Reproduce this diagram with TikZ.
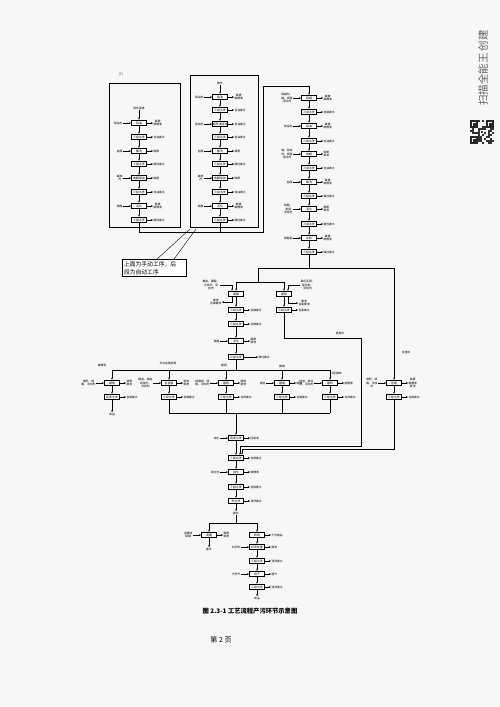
\documentclass[tikz,border=0pt]{standalone}
\usepackage{fontspec}
\newfontfamily\cjk{Noto Sans CJK SC}
\usetikzlibrary{arrows.meta}
\tikzset{
 pbox/.style={draw,line width=0.9pt,fill=white,minimum width=15pt,minimum height=5.8pt,inner sep=0.3pt,font=\cjk\fontsize{2.9}{3}\selectfont},
 lbl/.style={font=\cjk\fontsize{2.8}{3.3}\selectfont,align=center,inner sep=0.4pt},
 ln/.style={line width=0.75pt},
 arr/.style={ln,-{Stealth[length=1.9pt,width=1.7pt]}},
 frame/.style={line width=0.7pt},
}
\newcommand\pb[4]{\node[pbox] (#1) at (#2,#3) {#4};}
\newcommand\inl[2]{\node[lbl,anchor=east] (#1i) at ([xshift=-8pt]#1.west) {#2};\draw[arr] (#1i.east) -- (#1.west);}
\newcommand\outl[2]{\node[lbl,anchor=west] (#1o) at ([xshift=6pt]#1.east) {#2};\draw[arr] (#1.east) -- (#1o.west);}
\begin{document}
\begin{tikzpicture}[x=1pt,y=-1pt]
\useasboundingbox (0,0) rectangle (500,707);
\fill[gray!6] (0,0) rectangle (500,707);

% ---------- panel 1 ----------
\node[lbl,font=\cjk\fontsize{4}{4}\selectfont,text=gray!80!black] (p1lab) at (121,74) {(1)};
\draw[frame] (109,83) rectangle (180,227);
\node[lbl] (t1) at (139,108) {铁件基体};
\pb{a1}{139}{123}{除油}\inl{a1}{除油剂}\outl{a1}{碱雾\\废槽液}
\pb{a2}{139}{137}{三级水洗}\outl{a2}{含油废水}
\pb{a3}{139}{151}{酸洗}\inl{a3}{盐酸}\outl{a3}{酸雾}
\pb{a4}{139}{164}{三级水洗}\outl{a4}{酸性废水}
\pb{a5}{139}{178}{电解除油}\inl{a5}{碱液\\剂}\outl{a5}{碱雾}
\pb{a6}{139}{192}{三级水洗}\outl{a6}{含油废水}
\pb{a7}{139}{206}{活化}\inl{a7}{硫酸}\outl{a7}{酸雾\\废槽液}
\pb{a8}{139}{220}{三级水洗}\outl{a8}{酸性废水}
\draw[arr] (t1) -- (a1);
\foreach \u/\v in {a1/a2,a2/a3,a3/a4,a4/a5,a5/a6,a6/a7,a7/a8} \draw[arr] (\u) -- (\v);

% ---------- panel 2 ----------
\draw[frame] (190,75) rectangle (258,227);
\node[lbl] (t2) at (220,83) {镀件};
\pb{b1}{220}{97}{除油}\inl{b1}{除油剂}\outl{b1}{碱雾\\废槽液}
\pb{b2}{220}{110}{三级水洗}\outl{b2}{含油废水}
\pb{b3}{220}{124}{超声波除油}\inl{b3}{除油剂}\outl{b3}{含油废水}
\pb{b4}{220}{137}{三级水洗}\outl{b4}{含油废水}
\pb{b5}{220}{151}{酸洗}\inl{b5}{盐酸}\outl{b5}{酸雾}
\pb{b6}{220}{164}{三级水洗}\outl{b6}{酸性废水}
\pb{b7}{220}{178}{电解除油}\inl{b7}{碱液\\剂}\outl{b7}{碱雾}
\pb{b8}{220}{192}{三级水洗}\outl{b8}{含油废水}
\pb{b9}{220}{206}{活化}\inl{b9}{硫酸}\outl{b9}{酸雾\\废槽液}
\pb{b10}{220}{220}{三级水洗}\outl{b10}{酸性废水}
\draw[arr] (t2) -- (b1);
\foreach \u/\v in {b1/b2,b2/b3,b3/b4,b4/b5,b5/b6,b6/b7,b7/b8,b8/b9,b9/b10} \draw[arr] (\u) -- (\v);

% ---------- callout ----------
\node[draw,line width=0.4pt,fill=white,align=left,text width=60pt,inner sep=2pt,font=\cjk\fontsize{5.8}{8}\selectfont] (cb) at (154,268) {上面为手动工序，后\\段为自动工序};
\coordinate (cq1) at (190,229);
\coordinate (cq2) at (196,229);
\draw[line width=0.4pt] ([xshift=3pt]cb.north) -- (cq1);
\draw[line width=0.4pt] ([xshift=20pt]cb.north) -- (cq2);

% ---------- link to chain 3 ----------
\coordinate (j1) at (139,232);
\coordinate (j2) at (220,232);
\coordinate (j3) at (263,232);
\coordinate (j4) at (263,86);
\coordinate (j5) at (309,86);
\draw[ln] (a8) -- (j1) -- (j3) -- (j4) -- (j5);
\draw[ln] (b10) -- (j2);

% ---------- chain 3 ----------
\pb{c1}{309}{98}{除蜡}\inl{c1}{除蜡剂、\\碱、表面\\活性剂}\outl{c1}{碱雾\\废槽液}
\pb{c2}{309}{112}{三级水洗}\outl{c2}{含蜡废水}
\pb{c3}{309}{126}{除油}\inl{c3}{除油剂}\outl{c3}{碱雾\\废槽液}
\pb{c4}{309}{141}{三级水洗}\outl{c4}{含油废水}
\pb{c5}{309}{154}{电解}\inl{c5}{碱、除油\\剂、表面\\活性剂}\outl{c5}{碱雾\\废液}
\pb{c6}{309}{168}{三级水洗}\outl{c6}{含油废水}
\pb{c7}{309}{182}{酸洗}\inl{c7}{盐酸}\outl{c7}{酸雾\\废槽液}
\pb{c8}{309}{196}{三级水洗}\outl{c8}{酸性废水}
\pb{c9}{309}{209}{活化}\inl{c9}{硫酸、\\表面\\活性剂}\outl{c9}{酸雾\\废液}
\pb{c10}{309}{224}{三级水洗}\outl{c10}{酸性废水}
\pb{c11}{309}{238}{中和}\inl{c11}{碳酸钠}\outl{c11}{碱雾\\废槽液}
\pb{c12}{309}{252}{三级水洗}\outl{c12}{碱性废水}
\draw[arr] (j5) -- (c1);
\foreach \u/\v in {c1/c2,c2/c3,c3/c4,c4/c5,c5/c6,c6/c7,c7/c8,c8/c9,c9/c10,c10/c11,c11/c12} \draw[arr] (\u) -- (\v);

\coordinate (k1) at (309,268);
\coordinate (k2) at (258,268);
\coordinate (k3) at (394,268);
\coordinate (k4) at (258,282);
\coordinate (k5) at (236,282);
\coordinate (k6) at (284,282);
\draw[ln] (c12) -- (k1);
\draw[ln] (k2) -- (k3);
\draw[ln] (k2) -- (k4);
\draw[ln] (k5) -- (k6);

% ---------- left branch (x=236) ----------
\pb{d1}{236}{294}{镀镍}
\pb{d2}{236}{310}{三级水洗}\outl{d2}{含镍废水}
\pb{d3}{236}{324}{三级水洗}\outl{d3}{含镍废水}
\pb{d4}{236}{341}{活化}\inl{d4}{硫酸}\outl{d4}{酸雾\\废液}
\pb{d5}{236}{357}{三级水洗}\node[lbl,anchor=west] (d5o) at ([xshift=14pt]d5.east) {酸性废水};\draw[arr] (d5.east) -- (d5o.west);
\node[lbl,anchor=east] (d1i) at (220,285) {镍盐、硼酸、\\光亮剂、添\\加剂};
\draw[arr] (d1i.east) -| ([xshift=-4pt]d1.north);
\node[lbl,anchor=east] (d1o) at (222,302) {废渣\\含镍废液};
\draw[arr] ([xshift=-4pt]d1.south) |- (d1o.east);
\draw[arr] (k5) -- (d1);
\foreach \u/\v in {d1/d2,d2/d3,d3/d4,d4/d5} \draw[arr] (\u) -- (\v);

% ---------- right branch (x=284) ----------
\pb{e1}{284}{294}{镀铜}
\pb{e2}{284}{310}{三级水洗}\outl{e2}{含氰废水}
\node[lbl,anchor=west] (e1i) at (300,285) {氰化亚铜、\\氰化钠、\\添加剂};
\draw[arr] (e1i.west) -| ([xshift=4pt]e1.north);
\node[lbl,anchor=west] (e1o) at (298,303) {废渣\\含氰废液};
\draw[arr] ([xshift=4pt]e1.south) |- (e1o.west);
\draw[arr] (k6) -- (e1);
\draw[arr] (e1) -- (e2);
\coordinate (m1) at (284,338);
\coordinate (m2) at (361,338);
\coordinate (m3) at (361,446);
\coordinate (m4) at (240,446);
\draw[ln] (e2) -- (m1) -- (m2) -- (m3) -- (m4);
\node[lbl] (zj) at (340,333) {直角件};

% ---------- far right branch (x=394) ----------
\node[lbl] (gg) at (406,352) {变挂钩};
\pb{r1}{394}{383}{挂镀}\inl{r1}{铬酐、硫\\酸、添加\\剂}\outl{r1}{铬雾\\废槽液\\废渣}
\pb{r2}{394}{397}{三级水洗}\outl{r2}{含铬废水}
\draw[arr] (k3) -- (r1);
\draw[arr] (r1) -- (r2);
\coordinate (n1) at (394,449);
\coordinate (n2) at (242,449);
\draw[ln] (r2) -- (n1) -- (n2);

% ---------- middle row ----------
\coordinate (rowL) at (112,370);
\coordinate (rowR) at (330,370);
\coordinate (rowM) at (236,370);
\draw[ln] (d5) -- (rowM);
\draw[ln] (rowL) -- (rowR);
\node[lbl] (rl1) at (102,365) {镀铬等};
\node[lbl] (rl2) at (168,363) {多合金镀层等};
\node[lbl] (rl3) at (224,365) {镀铜};
\node[lbl] (rl4) at (282,366) {镀锡};
\node[lbl,anchor=west] (rl5) at (331,373) {V型镀锌};

\pb{g1}{112}{383}{镀铬}\inl{g1}{铬酐、硫\\酸、添加剂}\outl{g1}{铬雾\\废液}
\pb{g2}{112}{397}{回收水洗}\outl{g2}{含铬废水}
\node[lbl] (g3) at (112,414) {成品};
\draw[arr] (112,370) -- (g1);
\draw[arr] (g1) -- (g2);
\draw[arr] (g2) -- (g3);

\pb{h1}{169}{383}{合金镀}\inl{h1}{镍盐、锡盐\\添加剂、\\光亮剂}\outl{h1}{废液\\废渣}
\pb{h2}{169}{397}{三级水洗}\outl{h2}{含镍废水}
\draw[arr] (169,370) -- (h1);
\draw[arr] (h1) -- (h2);

\pb{i1}{226}{383}{镀铜}\inl{i1}{硫酸铜、硫\\酸、添加剂}\outl{i1}{酸雾\\废液}
\pb{i2}{226}{397}{三级水洗}\outl{i2}{含铜废水}
\draw[arr] (226,370) -- (i1);
\draw[arr] (i1) -- (i2);

\pb{jj1}{282}{383}{镀锡}\inl{jj1}{锡盐}\outl{jj1}{废液}
\pb{jj2}{282}{397}{三级水洗}\outl{jj2}{含锡废水}
\draw[arr] (282,370) -- (jj1);
\draw[arr] (jj1) -- (jj2);

\pb{l1}{330}{383}{镀锌}\inl{l1}{锌盐、氯化\\钾、添加剂}\outl{l1}{废槽液}
\pb{l2}{330}{397}{三级水洗}\outl{l2}{含锌废水}
\draw[arr] (330,370) -- (l1);
\draw[arr] (l1) -- (l2);

\coordinate (bL) at (169,413);
\coordinate (bR) at (330,413);
\coordinate (bM) at (236,413);
\draw[ln] (h2) -- (bL);
\draw[ln] (i2) -- (226,413);
\draw[ln] (jj2) -- (282,413);
\draw[ln] (l2) -- (bR);
\draw[ln] (bL) -- (bR);

% ---------- lower main chain ----------
\pb{f1}{236}{438}{回收水洗}\inl{f1}{纯水}\outl{f1}{回收液}
\pb{f2}{236}{458}{三级水洗}\outl{f2}{含铬废水}
\pb{f3}{236}{472}{钝化}\inl{f3}{钝化剂}\outl{f3}{废槽液}
\pb{f4}{236}{487}{三级水洗}\outl{f4}{含铬废水}
\pb{f5}{236}{501}{热水洗}\outl{f5}{清洗废水}
\node[lbl] (t3) at (236,513) {镀件};
\draw[arr] (bM) -- (f1);
\foreach \u/\v in {f1/f2,f2/f3,f3/f4,f4/f5,f5/t3} \draw[arr] (\u) -- (\v);
\draw[arr] (m4) -- (m4 |- f2.north);
\draw[arr] (n2) -- (n2 |- f2.north);

\coordinate (s0) at (236,523);
\coordinate (sL) at (209,523);
\coordinate (sR) at (257,523);
\draw[ln] (t3) -- (s0);
\draw[ln] (sL) -- (sR);

\pb{p1}{209}{535}{退镀}\inl{p1}{退镀液\\硝酸}\outl{p1}{酸雾\\废液}
\node[lbl] (p2) at (209,549) {废件};
\draw[arr] (sL) -- (p1);
\draw[arr] (p1) -- (p2);

\pb{q1}{257}{535}{检验}\outl{q1}{不合格品}
\pb{q2}{257}{547}{封闭处理}\inl{q2}{封闭剂}\outl{q2}{废液}
\pb{q3}{257}{561}{三级水洗}\outl{q3}{清洗废水}
\pb{q4}{257}{574}{烘干}\inl{q4}{天然气}\outl{q4}{废气}
\pb{q5}{257}{587}{三级水洗}\outl{q5}{清洗废水}
\node[lbl] (q6) at (257,598) {成品};
\draw[arr] (sR) -- (q1);
\foreach \u/\v in {q1/q2,q2/q3,q3/q4,q4/q5,q5/q6} \draw[arr] (\u) -- (\v);

% ---------- caption ----------
\node[font=\cjk\bfseries\fontsize{6.3}{7}\selectfont,inner sep=0pt] (cap) at (250,611) {图 2.3-1 工艺流程产污环节示意图};
\node[font=\cjk\fontsize{7}{8}\selectfont,inner sep=0pt] (pg) at (221,640) {第 2 页};

% ---------- watermark ----------
\node[rotate=90,font=\cjk\fontsize{10.5}{11}\selectfont,text=gray!75!black,inner sep=0pt] (wm) at (483,68) {扫描全能王 创建};
\begin{scope}[shift={(470,120)}]
\pgfmathsetseed{11}
\foreach \i in {0,...,11}{
  \foreach \j in {0,...,11}{
    \pgfmathtruncatemacro\vv{rnd>0.5}
    \ifnum\vv=1 \fill[black!80] (\i*2,\j*2) rectangle ++(2,2);\fi
  }
}
\foreach \ox/\oy in {0/0,16/0,0/16}{
  \fill[white] (\ox,\oy) rectangle ++(8,8);
  \draw[black!85,line width=1.6pt] (\ox+0.8,\oy+0.8) rectangle ++(6.4,6.4);
  \fill[black!85] (\ox+2.5,\oy+2.5) rectangle ++(3,3);
}
\fill[teal!70!black] (11,11) rectangle ++(2,2);
\end{scope}
\end{tikzpicture}
\end{document}
